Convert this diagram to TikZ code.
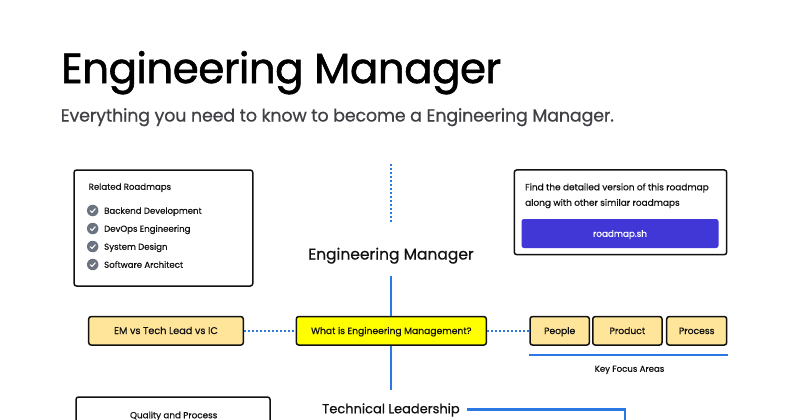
\documentclass[tikz,border=0pt]{standalone}
\usepackage{fontspec}
\setmainfont[RawFeature={embolden=0.6}]{Poppins}
\newfontfamily\titlefont[RawFeature={embolden=1.4}]{Poppins}
\usetikzlibrary{calc}
\definecolor{ink}{HTML}{111111}
\definecolor{tan}{HTML}{FFE599}
\definecolor{yel}{HTML}{FFFF00}
\definecolor{lineblue}{HTML}{2B78E4}
\definecolor{btn}{HTML}{4136D6}
\definecolor{chk}{HTML}{6B7280}
\definecolor{sub}{HTML}{3F3F46}
\tikzset{
  px/.style={x=1pt,y=-1pt},
  card/.style={draw=ink,line width=1.5pt,rounded corners=2.5pt,fill=white,inner sep=0pt},
  topic/.style={draw=ink,line width=1.5pt,rounded corners=2.5pt,fill=tan,inner sep=0pt,minimum height=28.5pt,font=\fontsize{9.2}{11}\selectfont,text=ink,text height=8.4pt,text depth=2pt},
  label/.style={inner sep=0pt,text=ink,font=\fontsize{8.6}{10}\selectfont,text height=8.5pt,text depth=2pt},
  itemlabel/.style={label,anchor=west},
  checkdot/.style={circle,fill=chk,inner sep=0pt,minimum size=11.5pt},
  solidline/.style={draw=lineblue,line width=2.1pt},
  dotline/.style={draw=lineblue,line width=2.1pt,dash pattern=on 2pt off 2pt},
  headnode/.style={inner sep=0pt,text=ink,font=\fontsize{15.5}{18}\selectfont}
}
\newcommand{\tick}[1]{\draw[white,line width=1.1pt,line cap=round,line join=round] ($(#1)+(-2.4,0.2)$) -- ($(#1)+(-0.6,1.9)$) -- ($(#1)+(2.5,-1.7)$);}
\begin{document}
\begin{tikzpicture}[px]
\useasboundingbox (0,0) rectangle (800,420);
\clip (0,0) rectangle (800,420);
\fill[white] (0,0) rectangle (800,420);
% title
\node[anchor=base west,inner sep=0pt,text=black,font=\titlefont\fontsize{42}{50}\selectfont\addfontfeatures{LetterSpace=-1.2}] (title) at (61,83) {Engineering Manager};
\node[anchor=base west,inner sep=0pt,text=sub,font=\fontsize{17.5}{22}\selectfont\addfontfeatures{LetterSpace=-1}] (subtitle) at (60.5,121.5) {Everything you need to know to become a Engineering Manager.};
% connectors behind
\node[headnode,minimum height=44pt,text height=14pt,text depth=3pt] (head) at (391,254) {Engineering Manager};
\node[headnode,font=\fontsize{13}{15}\selectfont,minimum height=38pt,text height=11pt,text depth=2.5pt] (tech) at (391,409) {Technical Leadership};
\node[topic,fill=yel,minimum width=190pt] (what) at (391.3,330.8) {What is Engineering Management?};
\node[topic,minimum width=154.6pt,font=\fontsize{9.7}{11}\selectfont] (emvs) at (166,330.8) {EM vs Tech Lead vs IC};
\node[topic,minimum width=59.3pt] (people) at (559.7,330.8) {People};
\node[topic,minimum width=69.3pt] (product) at (627.4,330.8) {Product};
\node[topic,minimum width=60pt] (process) at (696.7,330.8) {Process};
\coordinate (dottop) at (391,164);
\coordinate (dotend) at (391,222);
\coordinate (corner) at (625,409.5);
\coordinate (cornerdown) at (625,425);
\draw[dotline] (dottop) -- (dotend);
\draw[solidline] (head.south) -- (what.north -| head.south);
\draw[solidline] (what.south -| tech.north) -- (tech.north);
\draw[dotline] (emvs.east) -- (what.west);
\draw[dotline] (what.east) -- (people.west);
\draw[solidline,shorten <=7pt] (tech.east |- corner) -- (corner) -- (cornerdown);
% key focus
\coordinate (kfl) at (529,354.7);
\coordinate (kfr) at (728,354.7);
\draw[solidline] (kfl) -- (kfr);
\node[label] (kfa) at (629.5,368.5) {Key Focus Areas};
% related
\node[card,minimum width=178.7pt,minimum height=116pt] (related) at (163.4,228) {};
\node[label,anchor=west] (relt) at (88.5,186.5) {Related Roadmaps};
\foreach \n/\yy/\t in {a/210.5/Backend Development,b/228.5/DevOps Engineering,c/246.5/System Design,d/264.5/Software Architect}{
  \node[checkdot] (dot\n) at (92.7,\yy) {};
  \tick{dot\n}
  \node[itemlabel] (item\n) at (104,\yy) {\t};
}
% right card
\node[card,minimum width=212.4pt,minimum height=84.7pt] (find) at (620.5,212.3) {};
\node[label,anchor=west,font=\fontsize{8.95}{10}\selectfont] (f1) at (525,187) {Find the detailed version of this roadmap};
\node[label,anchor=west,font=\fontsize{8.95}{10}\selectfont] (f2) at (525,202.5) {along with other similar roadmaps};
\node[fill=btn,rounded corners=2.5pt,minimum width=197pt,minimum height=29pt,inner sep=0pt,text=white,font=\fontsize{8.8}{10}\selectfont,text height=8.5pt,text depth=2pt] (btn) at (620,233.5) {roadmap.sh};
% bottom card
\draw[card] (76,397) rectangle (270,440);
\coordinate (qpos) at (173.7,415);
\node[label,font=\fontsize{8.8}{10}\selectfont] (quality) at (qpos) {Quality and Process};
\end{tikzpicture}
\end{document}
